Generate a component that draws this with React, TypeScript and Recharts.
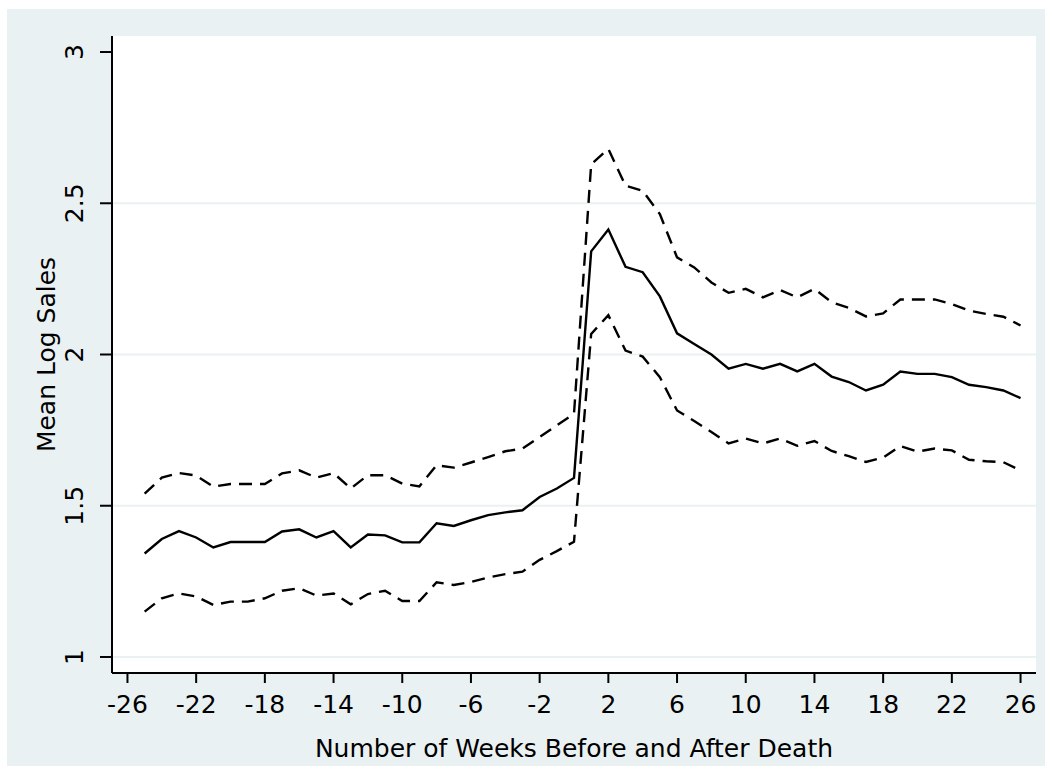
import { CartesianGrid, Label, Line, LineChart, XAxis, YAxis } from "recharts";

// weeks relative to death
const weeks = [
  -25, -24, -23, -22, -21, -20, -19, -18, -17, -16, -15, -14, -13, -12, -11, -10, -9, -8, -7, -6, -5, -4, -3, -2, -1, 0,
  1, 2, 3, 4, 5, 6, 7, 8, 9, 10, 11, 12, 13, 14, 15, 16, 17, 18, 19, 20, 21, 22, 23, 24, 25, 26,
];

const meanLogSales = [
  1.342, 1.39, 1.416, 1.395, 1.362, 1.38, 1.38, 1.38, 1.415, 1.422, 1.395, 1.416, 1.362, 1.405, 1.402, 1.379, 1.379,
  1.442, 1.433, 1.452, 1.469, 1.478, 1.485, 1.529, 1.557, 1.592,
  2.341, 2.413, 2.29, 2.272, 2.192, 2.07, 2.035, 2.0, 1.953, 1.969, 1.953, 1.969, 1.944, 1.969, 1.927, 1.909, 1.881,
  1.9, 1.944, 1.936, 1.936, 1.925, 1.9, 1.892, 1.881, 1.856,
];

const upperBand = [
  1.54, 1.593, 1.608, 1.6, 1.563, 1.572, 1.572, 1.572, 1.607, 1.617, 1.593, 1.608, 1.557, 1.601, 1.601, 1.573, 1.564,
  1.634, 1.626, 1.643, 1.661, 1.68, 1.689, 1.727, 1.766, 1.804,
  2.629, 2.68, 2.558, 2.541, 2.464, 2.321, 2.288, 2.238, 2.204, 2.217, 2.189, 2.213, 2.189, 2.217, 2.173, 2.154, 2.126,
  2.136, 2.182, 2.182, 2.182, 2.167, 2.145, 2.134, 2.125, 2.096,
];

const lowerBand = [
  1.15, 1.194, 1.21, 1.2, 1.172, 1.183, 1.183, 1.194, 1.219, 1.227, 1.203, 1.21, 1.174, 1.208, 1.219, 1.185, 1.185,
  1.247, 1.238, 1.248, 1.263, 1.274, 1.282, 1.321, 1.35, 1.381,
  2.068, 2.13, 2.013, 1.993, 1.925, 1.815, 1.78, 1.744, 1.706, 1.722, 1.706, 1.722, 1.698, 1.714, 1.681, 1.664, 1.645,
  1.659, 1.697, 1.679, 1.689, 1.683, 1.652, 1.647, 1.644, 1.617,
];

const xTicks = [-26, -22, -18, -14, -10, -6, -2, 2, 6, 10, 14, 18, 22, 26];
const yTicks = [1, 1.5, 2, 2.5, 3];
const gridValues = [1, 1.5, 2, 2.5];

const data = weeks.map((week, i) => ({
  week,
  mean: meanLogSales[i],
  upper: upperBand[i],
  lower: lowerBand[i],
}));

const FONT = "'DejaVu Sans', Verdana, sans-serif";
const BG = "#EAF1F3";
const FS = 25;

const XTick = ({ x, y, payload }: any) => (
  <text x={x} y={y + 30} textAnchor="middle" fontSize={FS} fontFamily={FONT} fill="#000">
    {payload.value}
  </text>
);

const YTick = ({ x, y, payload }: any) => (
  <text
    x={x - 17}
    y={y}
    transform={`rotate(-90 ${x - 17} ${y})`}
    textAnchor="middle"
    fontSize={FS}
    fontFamily={FONT}
    fill="#000"
  >
    {payload.value}
  </text>
);

const App = () => (
  <div style={{ position: "absolute", left: 0, top: 0, width: 1052, height: 774, background: "#fff" }}>
    <div style={{ position: "absolute", left: 7, top: 9, width: 1038, height: 757, background: BG }} />
    <div style={{ position: "absolute", left: 0, top: 0 }}>
      <LineChart width={1052} height={774} data={data} margin={{ top: 36, right: 16, left: 0, bottom: 0 }}>
        <CartesianGrid
          fill="#fff"
          fillOpacity={1}
          vertical={false}
          horizontalValues={gridValues}
          stroke={BG}
          strokeWidth={2}
        />
        <XAxis
          dataKey="week"
          type="number"
          domain={[-26.9, 26.9]}
          ticks={xTicks}
          interval={0}
          height={101}
          tickSize={10}
          tickMargin={0}
          axisLine={{ stroke: "#000", strokeWidth: 2 }}
          tickLine={{ stroke: "#000", strokeWidth: 2 }}
          tick={<XTick />}
        >
          <Label
            content={({ viewBox }: any) => (
              <text
                x={viewBox.x + viewBox.width / 2}
                y={viewBox.y + 84}
                textAnchor="middle"
                fontSize={FS}
                fontFamily={FONT}
                fill="#000"
              >
                Number of Weeks Before and After Death
              </text>
            )}
          />
        </XAxis>
        <YAxis
          type="number"
          domain={[0.947, 3.053]}
          ticks={yTicks}
          interval={0}
          width={112}
          tickSize={12}
          tickMargin={0}
          allowDataOverflow
          axisLine={{ stroke: "#000", strokeWidth: 2 }}
          tickLine={{ stroke: "#000", strokeWidth: 2 }}
          tick={<YTick />}
        >
          <Label
            content={({ viewBox }: any) => {
              const cy = viewBox.y + viewBox.height / 2;
              return (
                <text
                  x={55}
                  y={cy}
                  transform={`rotate(-90 55 ${cy})`}
                  textAnchor="middle"
                  fontSize={FS}
                  fontFamily={FONT}
                  fill="#000"
                >
                  Mean Log Sales
                </text>
              );
            }}
          />
        </YAxis>
        <Line
          type="linear"
          dataKey="upper"
          stroke="#000"
          strokeWidth={2.4}
          strokeDasharray="13 8"
          dot={false}
          activeDot={false}
          isAnimationActive={false}
        />
        <Line
          type="linear"
          dataKey="mean"
          stroke="#000"
          strokeWidth={2.4}
          dot={false}
          activeDot={false}
          isAnimationActive={false}
        />
        <Line
          type="linear"
          dataKey="lower"
          stroke="#000"
          strokeWidth={2.4}
          strokeDasharray="13 8"
          dot={false}
          activeDot={false}
          isAnimationActive={false}
        />
      </LineChart>
    </div>
  </div>
);

export default App;
